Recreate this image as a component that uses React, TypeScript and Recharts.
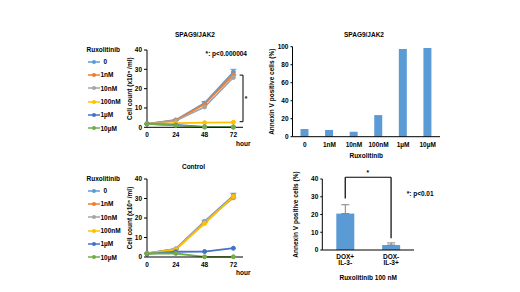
import React from 'react';
import {
  LineChart, Line, BarChart, Bar, XAxis, YAxis, Legend, ReferenceLine, ErrorBar,
} from 'recharts';

const FONT = 'Liberation Sans, Arial, sans-serif';

// ---------- Line charts ----------
const hours = [0, 24, 48, 72];
const hourTicks = [0, 24, 48, 72];
const seriesNames = ['0', '1nM', '10nM', '100nM', '1µM', '10µM'];
const seriesColors = ['#5B9BD5', '#ED7D31', '#A5A5A5', '#FFC000', '#4472C4', '#70AD47'];
const cellTicks = [0, 10, 20, 30, 40];

// SPAG9/JAK2
const spag0 = [1.8, 3.8, 12.5, 28.6];
const spag1nM = [1.8, 3.6, 12.0, 27.2];
const spag10nM = [1.8, 3.4, 10.5, 25.8];
const spag100nM = [1.8, 2.2, 2.4, 2.6];
const spag1uM = [1.8, 1.2, 0.2, 0.1];
const spag10uM = [1.8, 1.0, 0.1, 0.1];
const spag0Err = [0.2, 0.3, 0.8, 1.4];

// Control
const ctrl0 = [1.8, 4.1, 18.2, 31.5];
const ctrl1nM = [1.8, 4.0, 17.8, 31.0];
const ctrl10nM = [1.8, 4.2, 18.3, 30.3];
const ctrl100nM = [1.8, 3.8, 17.2, 31.0];
const ctrl1uM = [1.6, 2.7, 2.8, 4.5];
const ctrl10uM = [1.8, 1.8, 0.1, 0.1];
const ctrl0Err = [0.1, 0.3, 0.6, 1.2];

// ---------- Bar charts ----------
const annexinLabels = ['0', '1nM', '10nM', '100nM', '1µM', '10µM'];
const annexinValues = [8.5, 7.5, 5.5, 24, 97.5, 98.5];
const annexinTicks = [0, 20, 40, 60, 80, 100];

const doxLine1 = ['DOX+', 'DOX-'];
const doxLine2 = ['IL-3-', 'IL-3+'];
const doxValues = [20.5, 2.8];
const doxErrUp = [5, 1.2];
const doxTicks = [0, 10, 20, 30, 40];

const buildLineData = (arrs: number[][], err: number[]) =>
  hours.map((h, i) => {
    const row: any = { hour: h, err: err[i] };
    arrs.forEach((a, k) => { row['s' + k] = a[i]; });
    return row;
  });

const spagData = buildLineData([spag0, spag1nM, spag10nM, spag100nM, spag1uM, spag10uM], spag0Err);
const ctrlData = buildLineData([ctrl0, ctrl1nM, ctrl10nM, ctrl100nM, ctrl1uM, ctrl10uM], ctrl0Err);

const annexinData = annexinLabels.map((l, i) => ({ name: l, value: annexinValues[i] }));
const doxData = doxLine1.map((l, i) => ({
  name: l + ' ' + doxLine2[i],
  value: doxValues[i],
  err: [0, doxErrUp[i]],
}));

const tickStyle = { fontSize: 6.5, fill: '#000', fontWeight: 'bold' as const, fontFamily: FONT };
const labelStyle = { fontSize: 6.5, fill: '#000', fontWeight: 'bold' as const, fontFamily: FONT };

const LegendContent = (props: any) => {
  const payload = [...(props.payload || [])].sort(
    (a: any, b: any) => seriesNames.indexOf(a.value) - seriesNames.indexOf(b.value),
  );
  return (
    <div style={{ fontFamily: FONT, fontSize: 6.5, fontWeight: 'bold', color: '#000' }}>
      <div style={{ height: 10, lineHeight: '10px' }}>Ruxolitinib</div>
      {payload.map((e: any, i: number) => (
        <div key={i} style={{ height: 13.3, display: 'flex', alignItems: 'center' }}>
          <svg width={12} height={6} style={{ marginLeft: 1.5 }}>
            <line x1={0} y1={3} x2={12} y2={3} stroke={e.color} strokeWidth={1.5} />
            <circle cx={6} cy={3} r={2} fill={e.color} />
          </svg>
          <span style={{ marginLeft: String(e.value).length === 1 ? 3.5 : 0.5 }}>{e.value}</span>
        </div>
      ))}
    </div>
  );
};

const abs: React.CSSProperties = { position: 'absolute', left: 0, top: 0 };

const CellChart = ({ data, top, bottomY, legendTop, errSeries }: any) => (
  <div style={abs}>
    <LineChart
      width={520}
      height={292}
      data={data}
      margin={{ top, right: 277, left: 125, bottom: 292 - bottomY - 32 }}
    >
      <XAxis
        type="number"
        dataKey="hour"
        domain={[0, 80]}
        ticks={hourTicks}
        tickLine={false}
        tickSize={3}
        tickMargin={2}
        height={32}
        axisLine={{ stroke: '#000' }}
        tick={tickStyle}
        label={{ value: 'hour', position: 'right', offset: -7, style: labelStyle }}
      />
      <YAxis
        type="number"
        domain={[0, 40]}
        ticks={cellTicks}
        width={22}
        tickSize={3}
        tickMargin={2}
        axisLine={{ stroke: '#000' }}
        tickLine={{ stroke: '#000' }}
        tick={tickStyle}
        label={{
          value: 'Cell count (x10⁵ /ml)', angle: -90, position: 'insideLeft', offset: 5,
          style: { ...labelStyle, textAnchor: 'middle' },
        }}
      />
      <Legend
        layout="vertical"
        align="center"
        verticalAlign="middle"
        itemSorter="dataKey"
        content={<LegendContent />}
        wrapperStyle={{ left: 86.5, top: legendTop, width: 60 }}
      />
      {seriesNames.map((n, k) => (
        <Line
          key={n}
          type="linear"
          dataKey={'s' + k}
          name={n}
          stroke={seriesColors[k]}
          strokeWidth={1.8}
          dot={{ r: 2, fill: seriesColors[k], stroke: seriesColors[k], strokeWidth: 1 }}
          isAnimationActive={false}
        >
          {k === errSeries ? (
            <ErrorBar dataKey="err" direction="y" width={3} stroke={seriesColors[k]} strokeWidth={1} />
          ) : null}
        </Line>
      ))}
      {top === 50 ? (
        <>
          <ReferenceLine segment={[{ x: 80, y: 27 }, { x: 80, y: 2.9 }]} stroke="#000" strokeWidth={1} ifOverflow="visible" />
          <ReferenceLine segment={[{ x: 77.2, y: 27 }, { x: 80, y: 27 }]} stroke="#000" strokeWidth={1} ifOverflow="visible" />
          <ReferenceLine segment={[{ x: 77.2, y: 2.9 }, { x: 80, y: 2.9 }]} stroke="#000" strokeWidth={1} ifOverflow="visible" />
        </>
      ) : null}
    </LineChart>
  </div>
);

const DoxTick = (props: any) => {
  const { x, y, payload } = props;
  const parts = String(payload.value).split(' ');
  return (
    <text x={x} y={y} textAnchor="middle" style={tickStyle as any} fill="#000">
      <tspan x={x} dy="0.71em">{parts[0]}</tspan>
      <tspan x={x} dy="1.0em">{parts[1]}</tspan>
    </text>
  );
};

export default function App() {
  return (
    <div style={{ position: 'absolute', left: 0, top: 0, width: 520, height: 292, background: '#fff', overflow: 'hidden' }}>
      <CellChart data={spagData} top={50} bottomY={127.3} legendTop={45} errSeries={0} />
      <CellChart data={ctrlData} top={179} bottomY={257} legendTop={174} errSeries={0} />

      {/* Annexin V by dose */}
      <div style={abs}>
        <BarChart
          width={520}
          height={292}
          data={annexinData}
          margin={{ top: 46.7, right: 80, left: 267, bottom: 292 - 136.7 - 26 }}
        >
          <XAxis
            dataKey="name"
            height={26}
            tickLine={false}
            tickSize={4}
            tickMargin={2}
            axisLine={{ stroke: '#000' }}
            tick={tickStyle}
            interval={0}
            label={{ value: 'Ruxolitinib', position: 'insideBottom', offset: 5, style: labelStyle }}
          />
          <YAxis
            type="number"
            domain={[0, 100]}
            ticks={annexinTicks}
            width={25.5}
            tickSize={2}
            tickMargin={2}
            axisLine={{ stroke: '#000' }}
            tickLine={{ stroke: '#000' }}
            tick={tickStyle}
            label={{
              value: 'Annexin V positive cells (%)', angle: -90, position: 'insideLeft', offset: 5,
              style: { ...labelStyle, textAnchor: 'middle' },
            }}
          />
          <Bar dataKey="value" fill="#5B9BD5" barSize={8} isAnimationActive={false} />
        </BarChart>
      </div>

      {/* DOX / IL-3 */}
      <div style={abs}>
        <BarChart
          width={520}
          height={292}
          data={doxData}
          margin={{ top: 179, right: 106, left: 290.3, bottom: 292 - 250 - 35 }}
        >
          <XAxis
            dataKey="name"
            height={35}
            tickLine={false}
            tickSize={2}
            tickMargin={2}
            axisLine={{ stroke: '#000' }}
            tick={<DoxTick />}
            interval={0}
            label={{ value: 'Ruxolitinib 100 nM', position: 'insideBottom', offset: 5, style: labelStyle }}
          />
          <YAxis
            type="number"
            domain={[0, 40]}
            ticks={doxTicks}
            width={32}
            tickSize={2}
            tickMargin={2}
            axisLine={{ stroke: '#000' }}
            tickLine={{ stroke: '#000' }}
            tick={tickStyle}
            label={{
              value: 'Annexin V positive cells (%)', angle: -90, position: 'insideLeft', offset: 5,
              style: { ...labelStyle, textAnchor: 'middle' },
            }}
          />
          <Bar dataKey="value" fill="#5B9BD5" barSize={18} isAnimationActive={false}>
            <ErrorBar dataKey="err" direction="y" width={4} stroke="#808080" strokeWidth={1} />
          </Bar>
          <ReferenceLine segment={[{ x: doxData[0].name, y: 29 }, { x: doxData[0].name, y: 41 }]} stroke="#000" strokeWidth={1.2} ifOverflow="visible" />
          <ReferenceLine segment={[{ x: doxData[0].name, y: 41 }, { x: doxData[1].name, y: 41 }]} stroke="#000" strokeWidth={1.2} ifOverflow="visible" />
          <ReferenceLine segment={[{ x: doxData[1].name, y: 41 }, { x: doxData[1].name, y: 6.6 }]} stroke="#000" strokeWidth={1.2} ifOverflow="visible" />
        </BarChart>
      </div>

      {/* titles & annotations */}
      <svg width={520} height={292} style={{ ...abs, pointerEvents: 'none' }}>
        <g style={{ fontFamily: FONT, fontSize: 6.5, fontWeight: 'bold' }} fill="#000">
          <text x={195} y={37.3} textAnchor="middle">SPAG9/JAK2</text>
          <text x={364} y={37.3} textAnchor="middle">SPAG9/JAK2</text>
          <text x={193.5} y={169.3} textAnchor="middle">Control</text>
          <text x={247} y={56.3} textAnchor="end">*: p&lt;0.000004</text>
          <text x={246} y={101} textAnchor="middle">*</text>
          <text x={367.7} y={175} textAnchor="middle">*</text>
          <text x={406.7} y={196.3} textAnchor="start">*: p&lt;0.01</text>
        </g>
      </svg>
    </div>
  );
}
